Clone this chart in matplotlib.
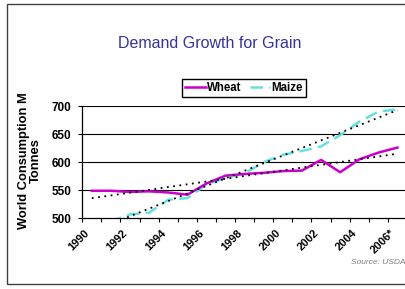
import numpy as np
import matplotlib
matplotlib.use("Agg")
import matplotlib.pyplot as plt
from matplotlib.patches import Rectangle

# data (world consumption, million tonnes)
years = ['1990', '1991', '1992', '1993', '1994', '1995', '1996', '1997', '1998',
         '1999', '2000', '2001', '2002', '2003', '2004', '2005', '2006*']
wheat = [549, 549, 547, 548, 546, 542, 562, 576, 579, 581, 584, 585, 604, 582, 605, 617, 626]
maize = [482, 495, 507, 510, 533, 536, 560, 572, 580, 600, 613, 620, 628, 648, 672, 690, 694]
yticks = [500, 550, 600, 650, 700]

plt.rcParams['font.family'] = ['Liberation Sans', 'DejaVu Sans']

W, H = 406, 289
fig = plt.figure(figsize=(W / 100, H / 100), dpi=100)

# outer chart border (right side is cropped off in the original)
fig.patches.append(Rectangle((7 / W, 1 - 284 / H), 1.2, (284 - 4) / H,
                             transform=fig.transFigure, fill=False,
                             edgecolor='#404040', linewidth=1.0))

ax = fig.add_axes([82.3 / W, 1 - 218.3 / H, (407 - 82.3) / W, (218.3 - 106) / H])
x = np.arange(len(years))

ax.plot(x, wheat, color='#CC00CC', linewidth=1.8, label='Wheat', zorder=4)
ax.plot(x, maize, color='#66E0E0', linewidth=1.8, linestyle=(0, (5, 2.5)), label='Maize', zorder=3)

# linear trend lines
for series in (wheat, maize):
    m, b = np.polyfit(x, series, 1)
    ax.plot(x, m * x + b, color='black', linewidth=1.3, linestyle=(0, (1, 2.5)), zorder=5)

ax.set_xlim(-0.5, len(years) - 0.5)
ax.set_ylim(500, 700)
ax.set_yticks(yticks)
ax.set_yticklabels([str(v) for v in yticks], fontsize=8.5, fontweight='bold')
for v in yticks[1:]:
    ax.axhline(v, color='black', linewidth=0.8, zorder=1)

# tick marks between categories, labels every other year (rotated, Excel style)
ax.set_xticks(np.arange(-0.5, len(years)))
ax.set_xticklabels([])
ax.set_xticks(x[::2] - 0.4, minor=True)
ax.set_xticklabels(years[::2], minor=True, rotation=45, ha='right', va='top',
                   rotation_mode='anchor', fontsize=8, fontweight='bold')
ax.tick_params(axis='x', which='major', direction='out', length=3, width=0.8)
ax.tick_params(axis='x', which='minor', length=0, pad=7)
ax.tick_params(axis='y', direction='out', length=3, width=0.8, pad=5)

for s in ('top', 'right'):
    ax.spines[s].set_visible(False)
ax.spines['left'].set_linewidth(0.9)
ax.spines['bottom'].set_linewidth(0.9)

fig.text(30 / W, 1 - 160.5 / H, 'World Consumption M\nTonnes', rotation=90,
         ha='center', va='center', multialignment='center', fontsize=9.3,
         fontweight='bold', linespacing=1.0)

fig.text(209.5 / W, 1 - 43 / H, 'Demand Growth for Grain', ha='center', va='center',
         fontsize=11.5, color='#333399')

fig.legend(loc='center', bbox_to_anchor=(244 / W, 1 - 88 / H), ncol=2,
           prop={'size': 8.3, 'weight': 'bold'}, frameon=True, fancybox=False,
           edgecolor='black', framealpha=1, handlelength=1.8, handletextpad=0.1,
           columnspacing=0.7, borderpad=0.25)

fig.text(351 / W, 1 - 263 / H, 'Source: USDA', ha='left', va='center',
         fontsize=6, style='italic', color='#808080')

fig.savefig('out.png', dpi=100)
